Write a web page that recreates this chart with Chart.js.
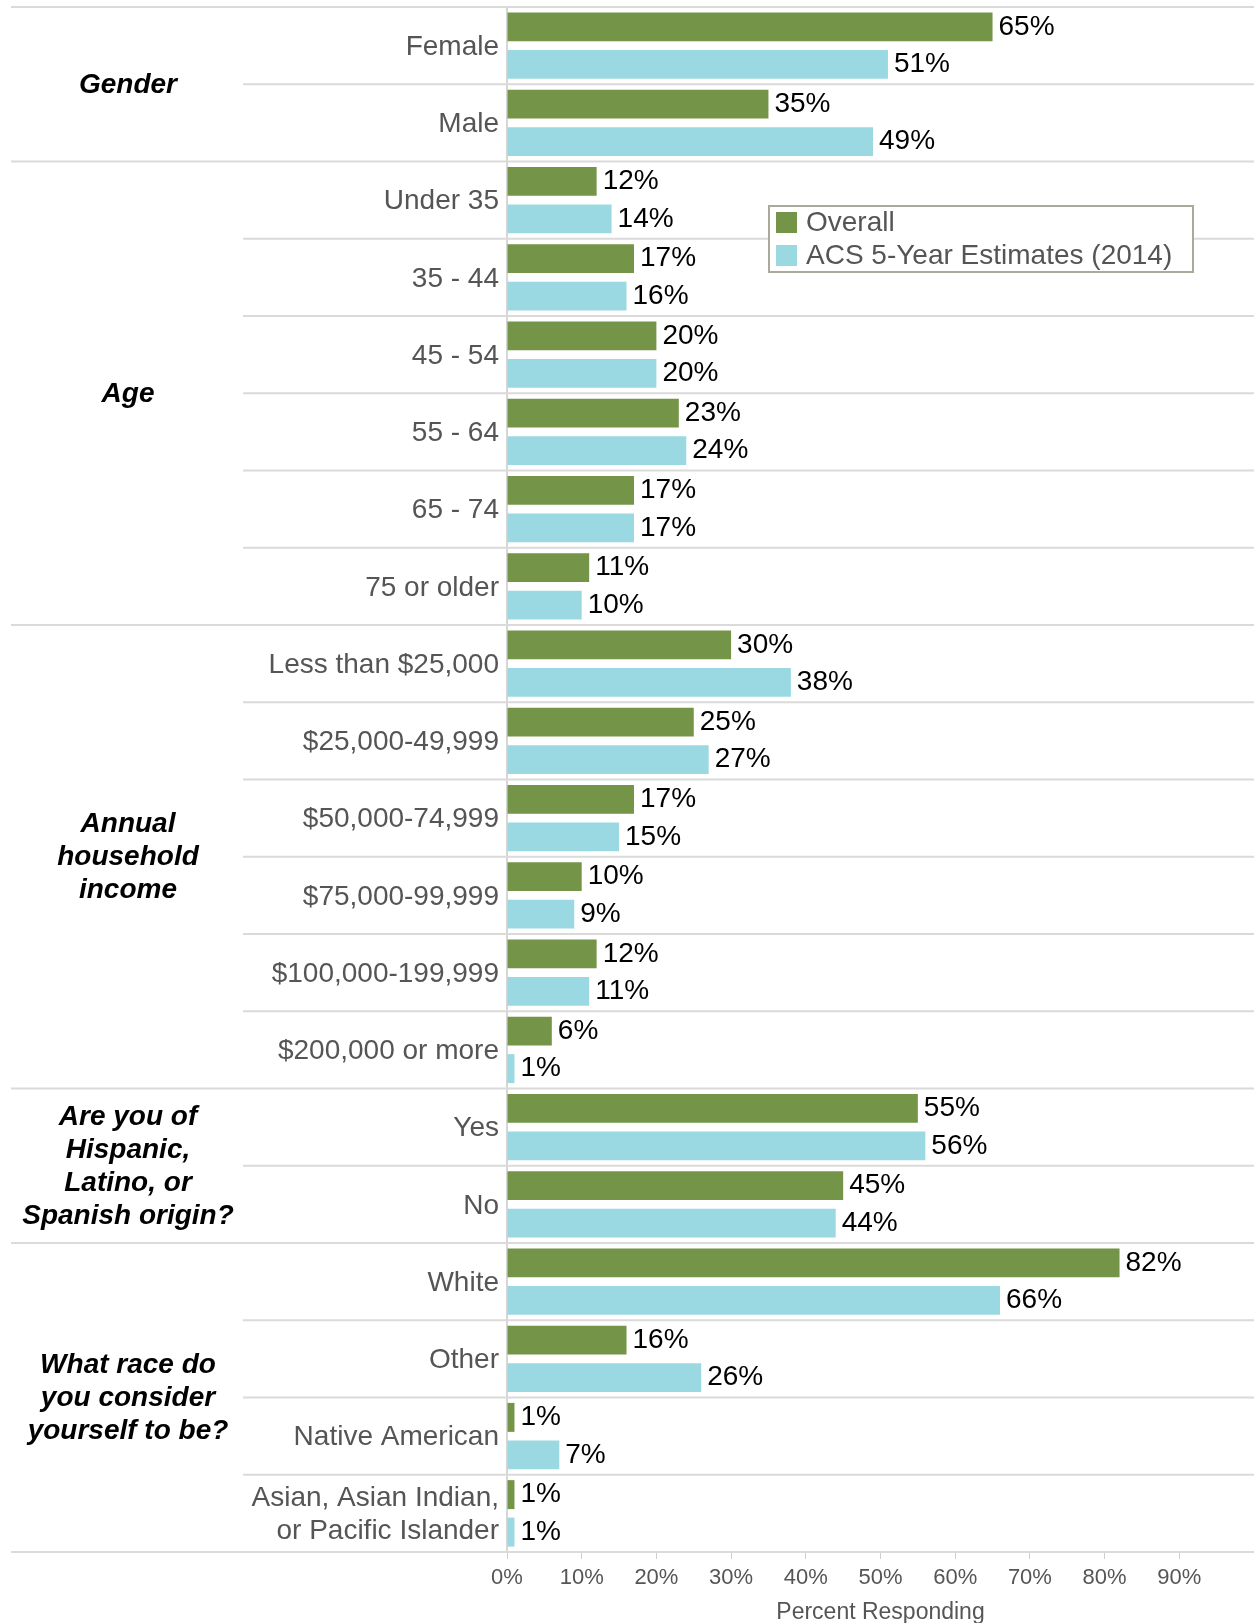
<!DOCTYPE html>
<html>
<head>
<meta charset="utf-8">
<title>Respondent demographics</title>
<script src="https://cdn.jsdelivr.net/npm/chart.js@4.4.1/dist/chart.umd.min.js"></script>
<style>
  html, body { margin: 0; padding: 0; background: #ffffff; }
  #wrap { width: 1254px; height: 1623px; }
</style>
</head>
<body>
<div id="wrap"><canvas id="chart" width="1254" height="1623"></canvas></div>
<script>
// ---- data ----
const categories = [
  "Female", "Male",
  "Under 35", "35 - 44", "45 - 54", "55 - 64", "65 - 74", "75 or older",
  "Less than $25,000", "$25,000-49,999", "$50,000-74,999", "$75,000-99,999", "$100,000-199,999", "$200,000 or more",
  "Yes", "No",
  "White", "Other", "Native American", ["Asian, Asian Indian,", "or Pacific Islander"]
];
const overall = [65, 35, 12, 17, 20, 23, 17, 11, 30, 25, 17, 10, 12, 6, 55, 45, 82, 16, 1, 1];
const acs     = [51, 49, 14, 16, 20, 24, 17, 10, 38, 27, 15, 9, 11, 1, 56, 44, 66, 26, 7, 1];
const groupLabels = [
  ["Gender"],
  ["Age"],
  ["Annual", "household", "income"],
  ["Are you of", "Hispanic,", "Latino, or", "Spanish origin?"],
  ["What race do", "you consider", "yourself to be?"]
];
const groupSizes = [2, 6, 6, 2, 4];
const seriesNames = ["Overall", "ACS 5-Year Estimates (2014)"];
const xTickLabels = ["0%", "10%", "20%", "30%", "40%", "50%", "60%", "70%", "80%", "90%"];
const xTitle = "Percent Responding";

// ---- styling ----
const FONT = '"Liberation Sans", Arial, Helvetica, sans-serif';
const GREEN = '#749547';
const BLUE = '#9ad9e2';
const RULE = '#dadada';
const LABEL_GREY = '#555555';

// separators, group titles, value labels and the legend box
const decor = {
  id: 'decor',
  beforeDatasetsDraw(chart) {
    const { ctx, chartArea, scales: { y } } = chart;
    const band = y.getPixelForValue(1) - y.getPixelForValue(0);
    const starts = new Set([0]);
    let acc = 0;
    groupSizes.forEach(s => { acc += s; starts.add(acc); });
    ctx.save();
    ctx.strokeStyle = RULE;
    ctx.lineWidth = 2;
    for (let i = 0; i <= categories.length; i++) {
      const yy = y.getPixelForValue(i) - band / 2;
      const x0 = starts.has(i) ? 11 : 243;
      ctx.beginPath();
      ctx.moveTo(x0, yy);
      ctx.lineTo(chartArea.right, yy);
      ctx.stroke();
    }
    ctx.restore();
  },
  afterDatasetsDraw(chart) {
    const { ctx, scales: { y } } = chart;
    ctx.save();
    // value labels at the end of each bar
    ctx.font = '28px ' + FONT;
    ctx.fillStyle = '#000000';
    ctx.textAlign = 'left';
    ctx.textBaseline = 'middle';
    chart.data.datasets.forEach((ds, di) => {
      const meta = chart.getDatasetMeta(di);
      meta.data.forEach((bar, i) => {
        ctx.fillText(ds.data[i] + '%', bar.x + 6, bar.y);
      });
    });

    // group titles on the far left
    const band = y.getPixelForValue(1) - y.getPixelForValue(0);
    ctx.font = 'italic bold 28px ' + FONT;
    ctx.textAlign = 'center';
    let first = 0;
    groupSizes.forEach((size, g) => {
      const top = y.getPixelForValue(first) - band / 2;
      const bottom = y.getPixelForValue(first + size - 1) + band / 2;
      const mid = (top + bottom) / 2;
      const lines = groupLabels[g];
      const lh = 33;
      lines.forEach((t, k) => {
        ctx.fillText(t, 128, mid + 1 + (k - (lines.length - 1) / 2) * lh);
      });
      first += size;
    });

    // legend box
    const lx = 769, ly = 206, lw = 424, lhgt = 66;
    ctx.fillStyle = '#ffffff';
    ctx.fillRect(lx, ly, lw, lhgt);
    ctx.strokeStyle = '#aaa99b';
    ctx.lineWidth = 2;
    ctx.strokeRect(lx, ly, lw, lhgt);
    const colors = [GREEN, BLUE];
    ctx.font = '28px ' + FONT;
    ctx.textAlign = 'left';
    ctx.textBaseline = 'middle';
    seriesNames.forEach((name, k) => {
      const cy = ly + 16 + k * 33;
      ctx.fillStyle = colors[k];
      ctx.fillRect(lx + 7, cy - 10, 21, 21);
      ctx.fillStyle = LABEL_GREY;
      ctx.fillText(name, lx + 37, cy + 1);
    });
    ctx.restore();
  }
};

new Chart(document.getElementById('chart'), {
  type: 'bar',
  data: {
    labels: categories,
    datasets: [
      { label: seriesNames[0], data: overall, backgroundColor: GREEN },
      { label: seriesNames[1], data: acs, backgroundColor: BLUE }
    ]
  },
  options: {
    indexAxis: 'y',
    responsive: false,
    animation: false,
    devicePixelRatio: 1,
    layout: { padding: { top: 7, left: 0, right: 0, bottom: 0 } },
    datasets: { bar: { categoryPercentage: 0.971, barPercentage: 0.773 } },
    plugins: {
      legend: { display: false },
      tooltip: { enabled: false }
    },
    scales: {
      x: {
        type: 'linear',
        position: 'bottom',
        min: 0,
        max: 100,
        afterFit(scale) { scale.height = 71; scale.paddingLeft = 0; scale.paddingRight = 0; },
        ticks: {
          stepSize: 10,
          padding: 6,
          color: LABEL_GREY,
          font: { family: FONT, size: 22 },
          maxRotation: 0,
          autoSkip: false,
          callback: (v, i) => (xTickLabels[i] !== undefined ? xTickLabels[i] : '')
        },
        grid: {
          drawOnChartArea: false,
          drawTicks: true,
          tickLength: 7,
          color: '#cfcfcf',
          lineWidth: 1
        },
        border: { display: false },
        title: {
          display: true,
          text: xTitle,
          color: LABEL_GREY,
          font: { family: FONT, size: 23 },
          padding: { top: 0, bottom: -3 }
        }
      },
      y: {
        type: 'category',
        position: 'left',
        afterFit(scale) { scale.width = 507; scale.paddingTop = 0; scale.paddingBottom = 0; },
        ticks: {
          padding: 8,
          labelOffset: 1.5,
          color: LABEL_GREY,
          autoSkip: false,
          font: { family: FONT, size: 28, lineHeight: 1.18 }
        },
        grid: { display: false, drawTicks: false, tickLength: 0 },
        border: { display: true, color: '#d6d6d6', width: 2 }
      }
    }
  },
  plugins: [decor]
});
</script>
</body>
</html>
